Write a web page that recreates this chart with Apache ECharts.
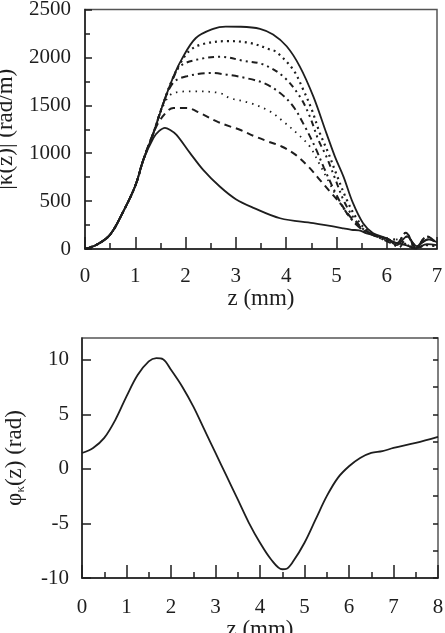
<!DOCTYPE html>
<html>
<head>
<meta charset="utf-8">
<script src="https://cdn.jsdelivr.net/npm/echarts@6/dist/echarts.min.js"></script>
<style>
  html, body { margin: 0; padding: 0; background: #fff; }
  #chart { width: 445px; height: 633px; }
</style>
</head>
<body>
<div id="chart"></div>
<script>
// top panel: |kappa(z)| curves, points are [z (mm), value (rad/m)]
const kLow = [[0,0],[0.25,50],[0.5,150],[0.75,380],[1,660],[1.16,931],[1.36,1158],[1.47,1230],[1.59,1265],[1.7,1240],[1.82,1192],[2.09,1001],[2.35,826],[2.68,652],[3.0,520],[3.35,430],[3.88,321],[4.54,269],[5.14,216],[5.3,200],[5.45,195],[5.6,164],[5.9,125],[6.1,80],[6.38,40],[6.58,10],[6.8,50],[7.0,40]];
const kDash = [[0,0],[0.25,50],[0.5,150],[0.75,380],[1,660],[1.16,931],[1.36,1210],[1.52,1367],[1.76,1472],[2.02,1472],[2.29,1419],[2.62,1332],[2.88,1280],[3.08,1245],[3.38,1175],[3.64,1122],[3.91,1070],[4.17,990],[4.44,861],[4.67,722],[4.87,600],[5.1,460],[5.3,321],[5.5,220],[5.7,160],[5.9,120],[6.0,110],[6.2,60],[6.38,170],[6.58,15],[6.8,130],[7.0,60]];
const kDot1 = [[0,0],[0.25,50],[0.5,150],[0.75,380],[1,660],[1.16,931],[1.36,1210],[1.56,1500],[1.76,1628],[2.15,1646],[2.68,1628],[2.88,1576],[3.28,1524],[3.68,1436],[3.94,1332],[4.21,1210],[4.47,1070],[4.65,900],[4.85,700],[5.05,500],[5.25,340],[5.45,230],[5.65,165],[5.9,120],[6.0,90],[6.18,100],[6.38,50],[6.58,5],[6.78,40],[7.0,30]];
const kDashDot = [[0,0],[0.25,50],[0.5,150],[0.75,380],[1,660],[1.16,931],[1.36,1210],[1.56,1524],[1.76,1740],[2.02,1802],[2.49,1838],[2.82,1820],[3.15,1790],[3.55,1733],[3.88,1628],[4.14,1489],[4.37,1280],[4.57,1070],[4.75,850],[4.95,620],[5.15,420],[5.35,280],[5.55,190],[5.8,130],[6.05,70],[6.25,20],[6.4,130],[6.6,30],[6.82,100],[7.0,70]];
const kDashDotDot = [[0,0],[0.25,50],[0.5,150],[0.75,380],[1,660],[1.16,931],[1.36,1210],[1.56,1524],[1.76,1790],[1.92,1920],[2.35,1990],[2.69,2007],[3.15,1965],[3.55,1925],[3.94,1802],[4.27,1593],[4.47,1384],[4.64,1140],[4.8,965],[4.97,740],[5.15,500],[5.35,320],[5.55,200],[5.8,130],[6.0,110],[6.2,60],[6.38,170],[6.58,15],[6.8,130],[7.0,60]];
const kDot2 = [[0,0],[0.25,50],[0.5,150],[0.75,380],[1,660],[1.16,931],[1.36,1210],[1.56,1524],[1.76,1800],[1.92,1960],[2.09,2075],[2.35,2140],[2.82,2170],[3.28,2151],[3.68,2082],[3.81,2055],[4.14,1872],[4.34,1663],[4.51,1454],[4.67,1210],[4.84,1001],[5.0,780],[5.2,520],[5.4,320],[5.6,200],[5.85,125],[6.0,90],[6.18,100],[6.38,50],[6.58,5],[6.78,40],[7.0,30]];
const kTop = [[0,0],[0.25,50],[0.5,150],[0.75,380],[1,660],[1.16,931],[1.36,1210],[1.56,1524],[1.76,1802],[1.92,1977],[2.2,2200],[2.55,2298],[2.8,2322],[3.1,2320],[3.48,2298],[3.74,2238],[4.01,2116],[4.27,1907],[4.54,1593],[4.8,1210],[4.97,965],[5.14,756],[5.33,478],[5.53,269],[5.73,164],[6.0,112],[6.2,40],[6.4,130],[6.6,30],[6.82,100],[7.0,70]];

// bottom panel: phase phi_kappa(z), [z (mm), value (rad)]
const phase = [[0,1.46],[0.25,1.92],[0.5,2.84],[0.75,4.5],[1.0,6.65],[1.25,8.6],[1.5,9.85],[1.67,10.15],[1.82,10.06],[2.0,9.09],[2.25,7.56],[2.5,5.73],[2.75,3.6],[3.0,1.46],[3.25,-0.67],[3.5,-2.8],[3.75,-4.94],[4.0,-6.77],[4.25,-8.3],[4.5,-9.2],[4.6,-9.15],[4.75,-8.45],[5.0,-6.77],[5.25,-4.63],[5.5,-2.5],[5.75,-0.82],[6.0,0.24],[6.25,1.0],[6.5,1.46],[6.75,1.62],[7.0,1.92],[7.5,2.38],[8.0,2.93]];

const ink = '#1e1e1e';
const serif = 'Liberation Serif';

const chart = echarts.init(document.getElementById('chart'));

const labelStyle = { fontFamily: serif, fontSize: 21, color: ink };
const nameStyle = { fontFamily: serif, fontSize: 23, color: ink };

function line(data, type, width, xi) {
  return {
    type: 'line', data: data, xAxisIndex: xi, yAxisIndex: xi,
    symbol: 'none', smooth: 0.35, silent: true,
    lineStyle: { color: ink, width: width, type: type }
  };
}

const option = {
  animation: false,
  backgroundColor: '#fff',
  grid: [
    { left: 85, right: 8, top: 9.5, height: 239.5, outerBoundsMode: 'none', containLabel: false,
      show: true, borderColor: '#555', borderWidth: 1.5 },
    { left: 82, right: 7, top: 338, height: 240, outerBoundsMode: 'none', containLabel: false,
      show: true, borderColor: '#555', borderWidth: 1.5 }
  ],
  xAxis: [
    {
      gridIndex: 0, type: 'value', min: 0, max: 7, interval: 1,
      name: 'z (mm)', nameLocation: 'middle', nameGap: 37, nameTextStyle: nameStyle,
      axisLine: { onZero: false, lineStyle: { color: ink, width: 1.5 } },
      axisTick: { inside: true, length: 12, lineStyle: { color: ink, width: 1.5 } },
      minorTick: { show: true, splitNumber: 2, length: 6, lineStyle: { color: ink, width: 1.5 } },
      axisLabel: Object.assign({ margin: 17 }, labelStyle),
      splitLine: { show: false }
    },
    {
      gridIndex: 1, type: 'value', min: 0, max: 8, interval: 1,
      name: 'z (mm)', nameLocation: 'middle', nameGap: 39, nameTextStyle: nameStyle,
      axisLine: { onZero: false, lineStyle: { color: ink, width: 1.5 } },
      axisTick: { inside: true, length: 13, lineStyle: { color: ink, width: 1.5 } },
      minorTick: { show: true, splitNumber: 2, length: 6, lineStyle: { color: ink, width: 1.5 } },
      axisLabel: Object.assign({ margin: 19 }, labelStyle),
      splitLine: { show: false }
    }
  ],
  yAxis: [
    {
      gridIndex: 0, type: 'value', min: 0, max: 2500, interval: 500,
      name: '|κ(z)| (rad/m)', nameLocation: 'middle', nameGap: 68, nameTextStyle: nameStyle,
      axisLine: { lineStyle: { color: ink, width: 1.5 } },
      axisTick: { inside: true, length: 7, lineStyle: { color: ink, width: 1.5 } },
      minorTick: { show: true, splitNumber: 2, length: 5, lineStyle: { color: ink, width: 1.5 } },
      axisLabel: Object.assign({ margin: 14, formatter: v => String(v) }, labelStyle),
      splitLine: { show: false }
    },
    {
      gridIndex: 1, type: 'value', min: -10, max: 12, interval: 5,
      name: '{a|φ}{s|κ}{a|(z) (rad)}', nameLocation: 'middle', nameGap: 55,
      nameTextStyle: {
        fontFamily: serif, fontSize: 23, color: ink,
        rich: {
          a: { fontFamily: serif, fontSize: 23, color: ink },
          s: { fontFamily: serif, fontSize: 13, color: ink, padding: [12, 0, 0, 0] }
        }
      },
      axisLine: { onZero: false, lineStyle: { color: ink, width: 1.5 } },
      axisTick: { inside: true, length: 9, lineStyle: { color: ink, width: 1.5 } },
      axisLabel: Object.assign({ margin: 13, showMaxLabel: false,
        formatter: v => (v > 10 ? '' : String(v)) }, labelStyle),
      splitLine: { show: false }
    },
    {
      // minor ticks of the phase axis
      gridIndex: 1, type: 'value', min: -10, max: 12, interval: 2.5,
      axisLine: { show: false, onZero: false },
      axisTick: { inside: true, length: 5, lineStyle: { color: ink, width: 1.5 } },
      axisLabel: { show: false },
      splitLine: { show: false }
    }
  ],
  series: [
    line(kLow, 'solid', 1.8, 0),
    line(kDash, [7, 5], 2, 0),
    line(kDot1, [1.5, 5], 1.8, 0),
    line(kDashDot, [7, 4, 2, 4], 2, 0),
    line(kDashDotDot, [6, 4, 2, 4, 2, 4], 2, 0),
    line(kDot2, [2, 4], 2.2, 0),
    line(kTop, 'solid', 1.8, 0),
    line(phase, 'solid', 1.8, 1)
  ]
};

chart.setOption(option);
</script>
</body>
</html>
